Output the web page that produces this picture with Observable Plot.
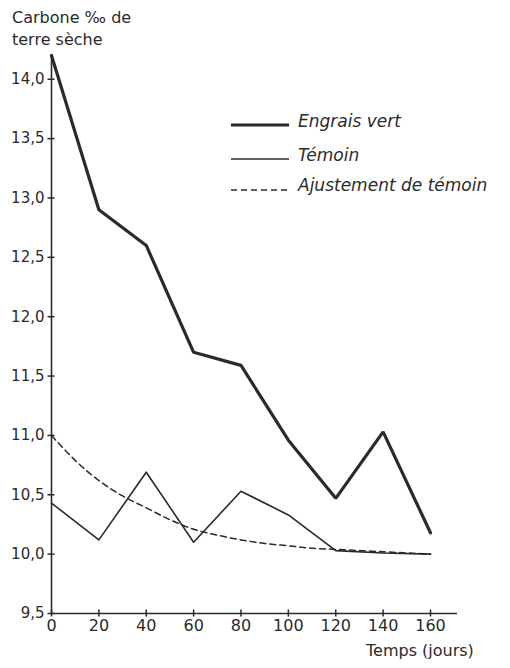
<!DOCTYPE html>
<html>
<head>
<meta charset="utf-8">
<script src="https://cdn.jsdelivr.net/npm/d3@7"></script>
<script src="https://cdn.jsdelivr.net/npm/@observablehq/plot@0.6"></script>
<style>
  body { margin: 0; background: #fff; font-family: "DejaVu Sans", sans-serif; color: #2a2a2a; }
  #wrap { position: relative; width: 510px; height: 668px; }
  .lbl { position: absolute; font-size: 16px; line-height: 22px; white-space: nowrap; }
  .leg { position: absolute; left: 230px; font-size: 17px; font-style: italic; white-space: nowrap; }
  .leg svg { vertical-align: middle; margin-right: 8px; }
</style>
</head>
<body>
<div id="wrap">
  <div class="lbl" style="left:12px; top:7px;">Carbone ‰ de<br>terre sèche</div>
  <div class="lbl" style="left:366px; top:640px;">Temps (jours)</div>
  <div id="legend"></div>
</div>
<script>
const days = [0, 20, 40, 60, 80, 100, 120, 140, 160];
const engraisVert = [14.2, 12.9, 12.6, 11.7, 11.59, 10.96, 10.47, 11.03, 10.18];
const temoin = [10.43, 10.12, 10.69, 10.1, 10.53, 10.33, 10.03, 10.01, 10.0];
const ajustDays = [0, 10, 20, 30, 40, 50, 60, 70, 80, 90, 100, 110, 120, 130, 140, 150, 160];
const ajustement = [11.0, 10.79, 10.62, 10.49, 10.39, 10.29, 10.21, 10.16, 10.12, 10.09, 10.07, 10.05, 10.04, 10.03, 10.02, 10.01, 10.0];
const xTicks = [0, 20, 40, 60, 80, 100, 120, 140, 160];
const yTicks = [9.5, 10.0, 10.5, 11.0, 11.5, 12.0, 12.5, 13.0, 13.5, 14.0];
const seriesNames = ["Engrais vert", "Témoin", "Ajustement de témoin"];

const ink = "#2a2a2a";
const ev = days.map((d, i) => ({day: d, v: engraisVert[i]}));
const tm = days.map((d, i) => ({day: d, v: temoin[i]}));
const aj = ajustDays.map((d, i) => ({day: d, v: ajustement[i]}));
const fmt = d => d.toFixed(1).replace(".", ",");

const chart = Plot.plot({
  width: 510,
  height: 668,
  marginTop: 55,
  marginBottom: 55,
  marginLeft: 51,
  marginRight: 53,
  style: {fontFamily: "DejaVu Sans, sans-serif", fontSize: "15px", color: ink, background: "transparent"},
  x: {domain: [0, 171.4], axis: null},
  y: {domain: [9.5, 14.2], axis: null},
  marks: [
    Plot.ruleX([0], {stroke: ink, strokeWidth: 1.6}),
    Plot.ruleY([9.5], {stroke: ink, strokeWidth: 1.6}),
    Plot.axisY({ticks: yTicks, tickSize: 7, dx: 3.5, tickFormat: () => "", label: null, stroke: ink, strokeWidth: 1.5, strokeOpacity: 1}),
    Plot.axisY({ticks: yTicks, tickSize: 0, tickPadding: 7, tickFormat: fmt, label: null, fill: ink, fontSize: 15}),
    Plot.axisX({ticks: xTicks, tickSize: 7, dy: -3.5, tickFormat: () => "", label: null, stroke: ink, strokeWidth: 1.5, strokeOpacity: 1}),
    Plot.axisX({ticks: xTicks, tickSize: 0, tickPadding: 6, tickFormat: d => String(d), label: null, fill: ink, fontSize: 16}),
    Plot.line(aj, {x: "day", y: "v", stroke: ink, strokeWidth: 1.5, strokeDasharray: "6,4", curve: "monotone-x"}),
    Plot.line(tm, {x: "day", y: "v", stroke: ink, strokeWidth: 1.6}),
    Plot.line(ev, {x: "day", y: "v", stroke: ink, strokeWidth: 3.2, strokeLinejoin: "miter"})
  ]
});
chart.style.position = "absolute";
chart.style.left = "0";
chart.style.top = "0";
document.getElementById("wrap").appendChild(chart);

const legStyles = [
  {w: 3.2, dash: null, top: 111},
  {w: 1.6, dash: null, top: 145},
  {w: 1.5, dash: "6,4", top: 175}
];
const legend = document.getElementById("legend");
seriesNames.forEach((name, i) => {
  const s = legStyles[i];
  const div = document.createElement("div");
  div.className = "leg";
  div.style.top = s.top + "px";
  div.innerHTML = `<svg width="60" height="14"><line x1="1" x2="59" y1="${i === 2 ? 11 : 10}" y2="${i === 2 ? 11 : 10}" stroke="${ink}" stroke-width="${s.w}" ${s.dash ? `stroke-dasharray="${s.dash}"` : ""}/></svg>${name}`;
  legend.appendChild(div);
});
</script>
</body>
</html>
